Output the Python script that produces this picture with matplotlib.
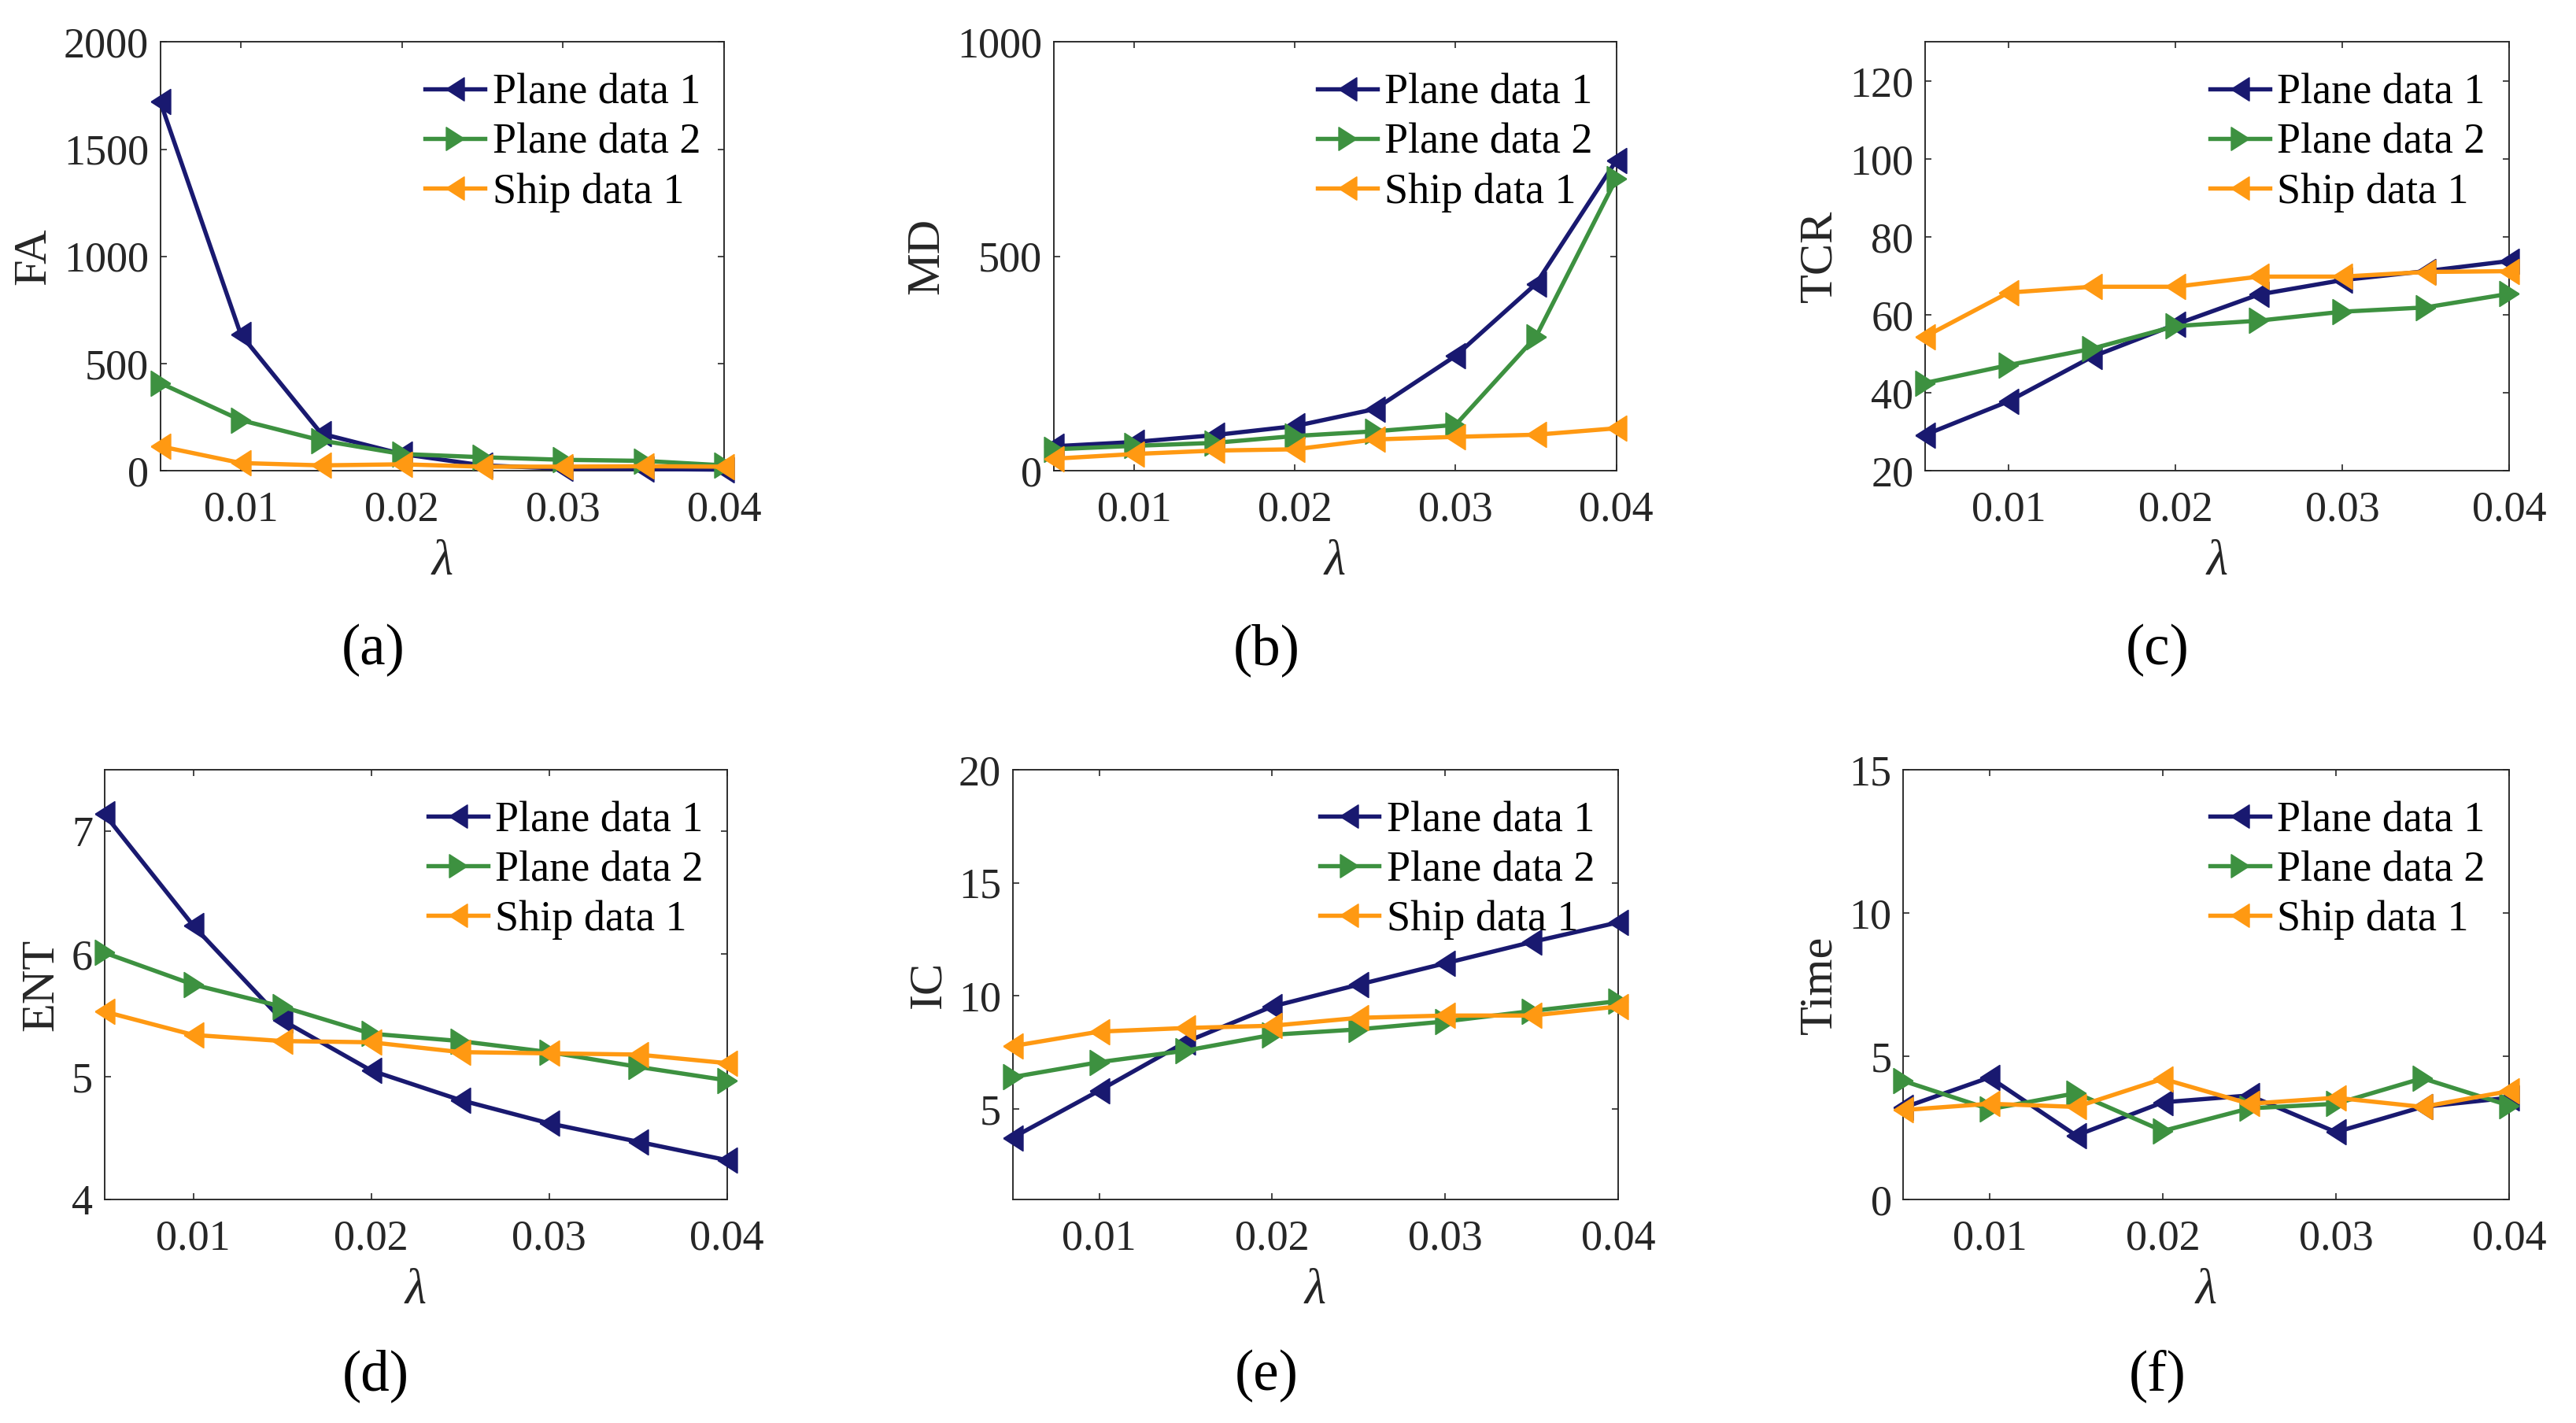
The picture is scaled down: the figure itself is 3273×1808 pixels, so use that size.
# Sensibilidade ao parametro lambda: FA, MD, TCR, ENT, IC e Time
import matplotlib
matplotlib.use("Agg")
import matplotlib.pyplot as plt
from matplotlib.font_manager import FontProperties

plt.rcParams["font.family"] = "serif"
plt.rcParams["font.serif"] = ["Liberation Serif", "DejaVu Serif"]

lam = [0.005, 0.01, 0.015, 0.02, 0.025, 0.03, 0.035, 0.04]
series_names = ["Plane data 1", "Plane data 2", "Ship data 1"]

fa_plane1 = [1722, 636, 173, 78, 25, 10, 8, 5]
fa_plane2 = [409, 236, 141, 78, 63, 51, 46, 25]
fa_ship1 = [114, 36, 25, 30, 19, 19, 21, 19]

md_plane1 = [57, 67, 83, 104, 144, 268, 436, 724]
md_plane2 = [50, 58, 65, 81, 92, 107, 313, 682]
md_ship1 = [28, 39, 47, 50, 73, 79, 84, 99]

tcr_plane1 = [29.2, 37.8, 49.2, 57.5, 65.2, 68.9, 71.2, 73.8]
tcr_plane2 = [42.5, 47.1, 51.3, 57.1, 58.5, 60.8, 61.9, 65.4]
tcr_ship1 = [54.4, 65.7, 67.2, 67.2, 69.8, 69.8, 71.0, 71.2]

ent_plane1 = [7.14, 6.23, 5.46, 5.05, 4.81, 4.62, 4.47, 4.32]
ent_plane2 = [6.01, 5.75, 5.57, 5.35, 5.29, 5.20, 5.08, 4.97]
ent_ship1 = [5.53, 5.34, 5.29, 5.28, 5.20, 5.19, 5.18, 5.11]

ic_plane1 = [3.73, 5.81, 7.96, 9.53, 10.5, 11.44, 12.38, 13.25]
ic_plane2 = [6.41, 7.07, 7.58, 8.28, 8.52, 8.87, 9.33, 9.77]
ic_ship1 = [7.78, 8.42, 8.58, 8.68, 9.03, 9.13, 9.13, 9.53]

time_plane1 = [3.20, 4.26, 2.23, 3.39, 3.63, 2.35, 3.23, 3.55]
time_plane2 = [4.14, 3.15, 3.71, 2.39, 3.18, 3.34, 4.23, 3.28]
time_ship1 = [3.12, 3.34, 3.23, 4.21, 3.34, 3.55, 3.23, 3.78]

colors = ["#191970", "#3D9140", "#FF9912"]

# triangulos estreitos como no MATLAB
left_tri = [(-0.78, 0), (0.78, 1), (0.78, -1), (-0.78, 0)]
right_tri = [(0.78, 0), (-0.78, 1), (-0.78, -1), (0.78, 0)]
markers = [left_tri, right_tri, left_tri]

panels = [
    # (ylabel, series, ylim, yticks, rect, tag, tag_x)
    ("FA", (fa_plane1, fa_plane2, fa_ship1), (0, 2000), [0, 500, 1000, 1500, 2000],
     [0.0622, 0.6692, 0.2189, 0.3013], "(a)", 0.1448),
    ("MD", (md_plane1, md_plane2, md_ship1), (0, 1000), [0, 500, 1000],
     [0.4090, 0.6692, 0.2185, 0.3013], "(b)", 0.4916),
    ("TCR", (tcr_plane1, tcr_plane2, tcr_ship1), (20, 130), [20, 40, 60, 80, 100, 120],
     [0.7473, 0.6692, 0.2267, 0.3013], "(c)", 0.8374),
    ("ENT", (ent_plane1, ent_plane2, ent_ship1), (4, 7.5), [4, 5, 6, 7],
     [0.0405, 0.1571, 0.2417, 0.3020], "(d)", 0.1458),
    ("IC", (ic_plane1, ic_plane2, ic_ship1), (1, 20), [5, 10, 15, 20],
     [0.3931, 0.1571, 0.2351, 0.3020], "(e)", 0.4916),
    ("Time", (time_plane1, time_plane2, time_ship1), (0, 15), [0, 5, 10, 15],
     [0.7388, 0.1571, 0.2352, 0.3020], "(f)", 0.8374),
]

W, H = 3273, 1808
fig = plt.figure(figsize=(W / 300, H / 300), dpi=300)
axis_color = "#262626"
times = "Liberation Serif"

for ylabel, data, ylim, yticks, rect, tag, tag_x in panels:
    ax = fig.add_axes(rect)
    for values, name, color, marker in zip(data, series_names, colors, markers):
        ax.plot(lam, values, color=color, linewidth=1.3, marker=marker, markersize=7.6,
                markerfacecolor=color, markeredgecolor=color, markeredgewidth=0.4,
                label=name, clip_on=False, zorder=3)

    ax.set_xlim(0.005, 0.04)
    ax.set_xticks([0.01, 0.02, 0.03, 0.04])
    ax.set_xticklabels(["0.01", "0.02", "0.03", "0.04"], family=times)
    ax.set_ylim(*ylim)
    ax.set_yticks(yticks)
    ax.set_yticklabels([f"{t:g}" for t in yticks], family=times)

    ax.tick_params(direction="in", top=True, right=True, length=2.0, width=0.4,
                   colors=axis_color, labelsize=13)
    ax.tick_params(axis="x", pad=6)
    ax.tick_params(axis="y", pad=3.5)
    for spine in ax.spines.values():
        spine.set_linewidth(0.45)
        spine.set_color(axis_color)

    ax.set_xlabel("λ", fontsize=15, style="italic", family=times, color=axis_color, labelpad=3)
    ax.set_ylabel(ylabel, fontsize=14.5, family=times, color=axis_color, labelpad=2.5)

    # legenda sem moldura, ~30 px da borda direita e ~40 px do topo
    axw, axh = rect[2] * W, rect[3] * H
    ax.legend(loc="upper right", bbox_to_anchor=(1 - 30 / axw, 1 - 40 / axh), frameon=False,
              prop=FontProperties(family=times, size=13),
              borderpad=0, borderaxespad=0, handlelength=1.4, handletextpad=0.17,
              labelspacing=0.23, markerscale=0.92)

    tag_y = 0.543 if rect[1] > 0.5 else 0.033
    fig.text(tag_x, tag_y, tag, ha="center", va="center", fontsize=17.5,
             family=times, color="black")

fig.savefig("out.png", dpi=300, facecolor="white")
